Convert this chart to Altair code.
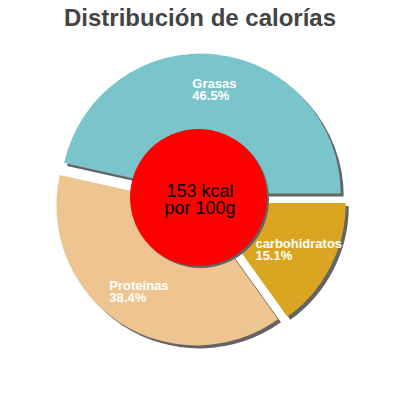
import altair as alt
import pandas as pd

# ---- data ----
categories = ["carbohidratos", "Proteínas", "Grasas"]
percentages = [15.1, 38.4, 46.5]
slice_colors = ["#DAA520", "#EEC591", "#7AC4CC"]
kcal_values = [153]
kcal_units = ["kcal"]
per_labels = ["por 100g"]
title_text = "Distribución de calorías"

# ---- layout / style constants ----
W, H = 384, 358
PAD_TOP = 26
CX, CY = 192, 166          # pie centre (view coords)
R = 140                    # pie radius
EXPLODE = 6.5              # outward shift of each slice
LABEL_R = 104              # label distance from slice centre
HOLE_R = 68.5
HOLE_DX, HOLE_DY = -1.5, -2.5
SHADOW = "#646464"
FONT = "Liberation Sans"

slices = pd.DataFrame({
    "cat": categories,
    "pct": percentages,
    "order": list(range(len(categories))),
})
slices["label"] = [f"{c}\n{p:.1f}%" for c, p in zip(categories, percentages)]

center = pd.DataFrame({
    "kcal": kcal_values,
    "unit": kcal_units,
    "per": per_labels,
})
center["text"] = [f"{k} {u}\n{p}" for k, u, p in zip(center["kcal"], center["unit"], center["per"])]

base = (
    alt.Chart(slices)
    .transform_joinaggregate(total="sum(pct)")
    .transform_window(cum="sum(pct)", sort=[alt.SortField("order")], frame=[None, 0])
    .transform_calculate(
        start="PI/2 + 2*PI*(datum.cum - datum.pct)/datum.total",
        end="PI/2 + 2*PI*datum.cum/datum.total",
    )
    .transform_calculate(mid="(datum.start + datum.end)/2")
    .transform_calculate(
        sx=f"{CX} + {EXPLODE}*sin(datum.mid)",
        sy=f"{CY} - {EXPLODE}*cos(datum.mid)",
    )
    .transform_calculate(
        lx=f"datum.sx + {LABEL_R}*sin(datum.mid) - 3.3*length(datum.cat)",
        ly=f"datum.sy - {LABEL_R}*cos(datum.mid)",
    )
)

arc_enc = dict(
    theta=alt.Theta("start:Q", scale=None, stack=None),
    theta2="end:Q",
    x=alt.X("sx:Q", scale=None),
    y=alt.Y("sy:Q", scale=None),
)

shadow = base.mark_arc(outerRadius=R, color=SHADOW, xOffset=3, yOffset=3).encode(**arc_enc)

pie = base.mark_arc(outerRadius=R).encode(
    color=alt.Color("cat:N", scale=alt.Scale(domain=categories, range=slice_colors), legend=None),
    **arc_enc,
)

labels = base.mark_text(
    align="left", baseline="middle", color="white", fontSize=13, fontWeight="bold",
    lineHeight=12, lineBreak="\n", font=FONT, dy=-6,
).encode(
    x=alt.X("lx:Q", scale=None),
    y=alt.Y("ly:Q", scale=None),
    text="label:N",
)

hole_shadow = alt.Chart(center).mark_arc(
    outerRadius=HOLE_R, theta=0, theta2=6.2832, color=SHADOW, xOffset=2, yOffset=2
).encode(x=alt.value(CX + HOLE_DX), y=alt.value(CY + HOLE_DY))

hole = alt.Chart(center).mark_arc(
    outerRadius=HOLE_R, theta=0, theta2=6.2832, color="#FF0000"
).encode(x=alt.value(CX + HOLE_DX), y=alt.value(CY + HOLE_DY))

center_text = alt.Chart(center).mark_text(
    align="center", baseline="middle", color="black", fontSize=18,
    lineHeight=17, lineBreak="\n", font=FONT, dy=-8,
).encode(x=alt.value(CX), y=alt.value(CY), text="text:N")

chart = (
    alt.layer(shadow, pie, labels, hole_shadow, hole, center_text)
    .properties(
        width=W, height=H,
        padding={"top": PAD_TOP, "left": 0, "right": 0, "bottom": 0},
        autosize="none",
        title=alt.TitleParams(
            title_text, fontSize=24, fontWeight="bold", color="#444444",
            font=FONT, anchor="middle", offset=3,
        ),
    )
    .configure_view(stroke=None)
)

chart.save("out.html", embed_options={"renderer": "svg", "actions": False})
